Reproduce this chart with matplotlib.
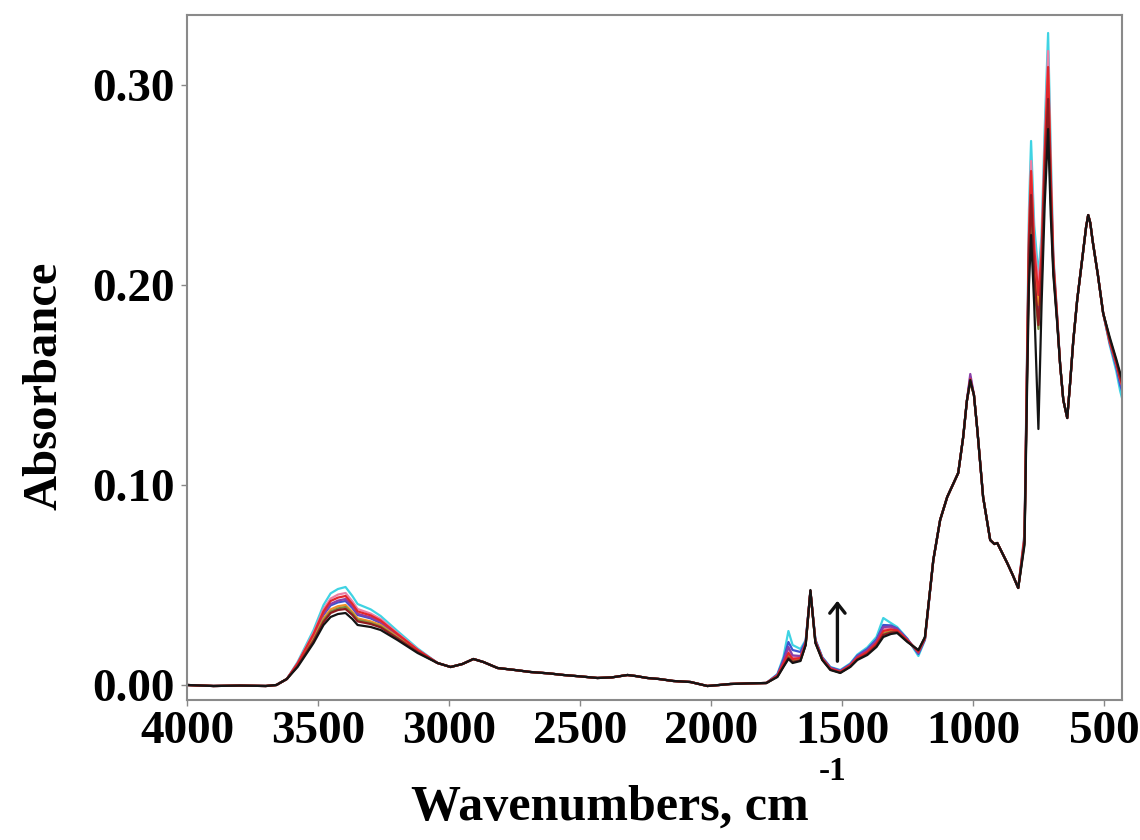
import matplotlib
matplotlib.use("Agg")
import matplotlib.pyplot as plt

# ---------------- data ----------------
series_names = ["cyan", "pink", "blue", "purple", "orange", "olive", "red", "darkred", "black"]
series_colors = {
    "cyan": "#3fd3e3", "pink": "#ea7fa6", "blue": "#3a55d0", "purple": "#8a3fa8",
    "orange": "#f0902a", "olive": "#7d8c3c", "red": "#e2262c", "darkred": "#8e1b1f",
    "black": "#141414",
}

# shared baseline 4000-3620
wn_a = [4000, 3900, 3800, 3700, 3660, 3620]
ab_a = [0.0, -0.0005, -0.0003, -0.0005, 0.0, 0.003]

# O-H band (differs between samples)
wn_b = [3579, 3518, 3480, 3453, 3425, 3396, 3370, 3350, 3300, 3262, 3198, 3121]
ab_b = {
    "black":   [0.009, 0.021, 0.030, 0.034, 0.0355, 0.036, 0.033, 0.030, 0.029, 0.0275, 0.0225, 0.016],
    "darkred": [0.0095, 0.022, 0.0315, 0.036, 0.0375, 0.038, 0.035, 0.0318, 0.0305, 0.0288, 0.0233, 0.0165],
    "olive":   [0.0097, 0.0225, 0.0323, 0.0367, 0.0383, 0.039, 0.0357, 0.0325, 0.031, 0.0293, 0.0236, 0.0166],
    "orange":  [0.010, 0.0232, 0.0333, 0.0378, 0.0394, 0.040, 0.0366, 0.0333, 0.0318, 0.030, 0.024, 0.0168],
    "blue":    [0.0103, 0.0242, 0.035, 0.0398, 0.0413, 0.042, 0.0385, 0.035, 0.0333, 0.031, 0.0248, 0.0172],
    "purple":  [0.0105, 0.0246, 0.0356, 0.0405, 0.0422, 0.043, 0.0393, 0.0356, 0.0338, 0.0314, 0.025, 0.0173],
    "red":     [0.0108, 0.0255, 0.0368, 0.042, 0.0437, 0.0445, 0.0405, 0.0368, 0.0348, 0.0322, 0.0255, 0.0176],
    "pink":    [0.011, 0.0262, 0.038, 0.0432, 0.0452, 0.046, 0.0418, 0.038, 0.0357, 0.033, 0.026, 0.0178],
    "cyan":    [0.0115, 0.0275, 0.040, 0.0458, 0.0480, 0.049, 0.0445, 0.0405, 0.0378, 0.0345, 0.027, 0.0183],
}

# shared 3045-1790
wn_c = [3045, 2995, 2950, 2908, 2870, 2816, 2750, 2690, 2620, 2564, 2500, 2435, 2380,
        2320, 2290, 2244, 2200, 2145, 2080, 2015, 1970, 1928, 1860, 1790]
ab_c = [0.011, 0.009, 0.0105, 0.013, 0.0115, 0.0085, 0.0075, 0.0065, 0.0058, 0.005, 0.0043,
        0.0035, 0.0038, 0.005, 0.0045, 0.0035, 0.003, 0.002, 0.0015, -0.0005, 0.0, 0.0005,
        0.0008, 0.001]

# 1750-1185 region (differs between samples)
wn_d = [1748, 1725, 1706, 1690, 1660, 1640, 1622, 1603, 1577, 1546, 1508, 1470, 1443, 1405,
        1370, 1344, 1315, 1291, 1252, 1210, 1185]
ab_d = {
    "black":   [0.004, 0.009, 0.013, 0.011, 0.012, 0.020, 0.0475, 0.021, 0.0125, 0.0075, 0.006, 0.009, 0.0125, 0.015, 0.019, 0.024, 0.0255, 0.026, 0.0215, 0.0175, 0.024],
    "darkred": [0.0042, 0.0093, 0.0135, 0.0115, 0.0123, 0.0202, 0.047, 0.0212, 0.0127, 0.0077, 0.0062, 0.0092, 0.0128, 0.0155, 0.0197, 0.025, 0.0262, 0.0265, 0.0218, 0.0172, 0.0238],
    "olive":   [0.0043, 0.0096, 0.014, 0.0118, 0.0125, 0.0203, 0.0468, 0.0213, 0.0128, 0.0078, 0.0063, 0.0094, 0.013, 0.0158, 0.020, 0.0255, 0.0265, 0.0267, 0.022, 0.017, 0.0236],
    "orange":  [0.0045, 0.010, 0.0145, 0.0122, 0.0128, 0.0205, 0.0466, 0.0215, 0.013, 0.008, 0.0064, 0.0096, 0.0133, 0.0162, 0.0205, 0.026, 0.027, 0.027, 0.0222, 0.0168, 0.0235],
    "red":     [0.0047, 0.0108, 0.016, 0.013, 0.0135, 0.021, 0.0472, 0.0218, 0.0132, 0.0082, 0.0066, 0.0098, 0.0136, 0.0166, 0.021, 0.027, 0.0278, 0.0273, 0.0224, 0.0166, 0.0233],
    "pink":    [0.0048, 0.0113, 0.0175, 0.0138, 0.014, 0.0213, 0.0465, 0.022, 0.0134, 0.0084, 0.0068, 0.010, 0.014, 0.017, 0.0215, 0.028, 0.0285, 0.0276, 0.0226, 0.0163, 0.0232],
    "purple":  [0.005, 0.012, 0.019, 0.0148, 0.0145, 0.0215, 0.047, 0.0222, 0.0136, 0.0086, 0.007, 0.0102, 0.0143, 0.0174, 0.022, 0.029, 0.0292, 0.028, 0.0228, 0.016, 0.023],
    "blue":    [0.0052, 0.0128, 0.0215, 0.0175, 0.0165, 0.022, 0.0468, 0.0225, 0.0138, 0.0088, 0.0072, 0.0104, 0.0147, 0.018, 0.0228, 0.030, 0.0298, 0.0283, 0.023, 0.0155, 0.0228],
    "cyan":    [0.0055, 0.014, 0.027, 0.020, 0.018, 0.0225, 0.0465, 0.0228, 0.014, 0.009, 0.0075, 0.0108, 0.0152, 0.0188, 0.024, 0.0335, 0.031, 0.029, 0.0232, 0.0145, 0.0225],
}

# Si-O band
wn_e1 = [1153, 1127, 1100, 1058, 1039, 1025]
ab_e1 = [0.0625, 0.0825, 0.094, 0.106, 0.124, 0.142]
wn_e2 = [1012]
ab_e2 = {"black": [0.1525], "darkred": [0.152], "olive": [0.1515], "orange": [0.152],
         "red": [0.153], "pink": [0.153], "purple": [0.1555], "blue": [0.154], "cyan": [0.1525]}
wn_e3 = [998, 985, 963, 936, 920, 909, 890, 871, 850, 829]
ab_e3 = [0.145, 0.1275, 0.094, 0.0725, 0.0705, 0.071, 0.066, 0.061, 0.055, 0.0485]

# 800-680 doublet / sharp peaks (differ between samples)
wn_f = [805, 795, 788, 780, 768, 752, 740, 728, 715, 705, 695, 681]
ab_f = {
    "black":   [0.07, 0.15, 0.20, 0.225, 0.19, 0.128, 0.19, 0.24, 0.278, 0.235, 0.205, 0.182],
    "darkred": [0.072, 0.158, 0.215, 0.245, 0.205, 0.18, 0.205, 0.255, 0.293, 0.245, 0.208, 0.183],
    "olive":   [0.071, 0.155, 0.21, 0.24, 0.20, 0.178, 0.20, 0.252, 0.29, 0.243, 0.207, 0.183],
    "orange":  [0.073, 0.162, 0.222, 0.255, 0.215, 0.19, 0.212, 0.262, 0.305, 0.252, 0.21, 0.184],
    "purple":  [0.072, 0.16, 0.218, 0.248, 0.21, 0.185, 0.208, 0.258, 0.298, 0.248, 0.209, 0.184],
    "blue":    [0.073, 0.161, 0.22, 0.25, 0.212, 0.188, 0.21, 0.26, 0.30, 0.25, 0.21, 0.184],
    "red":     [0.074, 0.164, 0.225, 0.257, 0.218, 0.195, 0.215, 0.265, 0.309, 0.255, 0.212, 0.185],
    "pink":    [0.075, 0.166, 0.23, 0.262, 0.222, 0.2, 0.22, 0.27, 0.317, 0.26, 0.213, 0.185],
    "cyan":    [0.076, 0.17, 0.238, 0.272, 0.23, 0.205, 0.225, 0.278, 0.326, 0.268, 0.215, 0.186],
}

# shared 670-505
wn_g = [669, 657, 642, 631, 619, 604, 582, 570, 562, 554, 545, 525, 505]
ab_g = [0.16, 0.1425, 0.1335, 0.151, 0.172, 0.1925, 0.216, 0.229, 0.235, 0.231, 0.222, 0.205, 0.186]

# right end (differs slightly)
wn_h = [480, 455, 440, 430]
ab_h = {
    "black":   [0.174, 0.163, 0.156, 0.152],
    "darkred": [0.173, 0.162, 0.154, 0.150],
    "olive":   [0.173, 0.162, 0.155, 0.151],
    "orange":  [0.172, 0.161, 0.153, 0.149],
    "purple":  [0.172, 0.160, 0.152, 0.148],
    "blue":    [0.171, 0.159, 0.150, 0.146],
    "red":     [0.172, 0.161, 0.153, 0.149],
    "pink":    [0.171, 0.160, 0.151, 0.147],
    "cyan":    [0.170, 0.157, 0.147, 0.142],
}

x_ticks = [4000, 3500, 3000, 2500, 2000, 1500, 1000, 500]
y_ticks = [0.00, 0.10, 0.20, 0.30]
y_ticklabels = ["0.00", "0.10", "0.20", "0.30"]

# ---------------- figure ----------------
FONT = "Liberation Serif"
fig = plt.figure(figsize=(11.4, 8.4), dpi=100)
ax = fig.add_axes([187 / 1140, 1 - 700 / 840, (1122 - 187) / 1140, (700 - 15) / 840])

wn_all = wn_a + wn_b + wn_c + wn_d + wn_e1 + wn_e2 + wn_e3 + wn_f + wn_g + wn_h
for name in series_names:
    ab = (ab_a + ab_b[name] + ab_c + ab_d[name] + ab_e1 + ab_e2[name] + ab_e3
          + ab_f[name] + ab_g + ab_h[name])
    ax.plot(wn_all, ab, color=series_colors[name], lw=1.6,
            solid_joinstyle="round", solid_capstyle="round")

ax.set_xlim(4001, 433)
ax.set_ylim(-0.0075, 0.335)
ax.set_xticks(x_ticks)
ax.set_xticklabels([str(t) for t in x_ticks], fontfamily=FONT, fontweight="bold", fontsize=34)
ax.set_yticks(y_ticks)
ax.set_yticklabels(y_ticklabels, fontfamily=FONT, fontweight="bold", fontsize=34)
ax.tick_params(axis="both", direction="out", length=4, width=1, color="#888888")
ax.tick_params(axis="x", pad=4)
ax.tick_params(axis="y", pad=5)
for sp in ax.spines.values():
    sp.set_color("#8a8a8a")
    sp.set_linewidth(1.5)

# arrow
ax.annotate("", xy=(1519, 0.0435), xytext=(1519, 0.0105),
            arrowprops=dict(arrowstyle="->,head_length=0.7,head_width=0.55",
                            color="#111111", lw=2.4))

# axis labels
fig.text(45 / 1140, 1 - 386 / 840, "Absorbance", rotation=90, ha="center", va="center",
         fontfamily=FONT, fontweight="bold", fontsize=35)
fig.text(610 / 1140, 1 - 808 / 840, "Wavenumbers, cm", ha="center", va="center",
         fontfamily=FONT, fontweight="bold", fontsize=36)
fig.text(833 / 1140, 1 - 772 / 840, "-1", ha="center", va="center",
         fontfamily=FONT, fontweight="bold", fontsize=24)

fig.savefig("out.png", dpi=100, facecolor="white")
